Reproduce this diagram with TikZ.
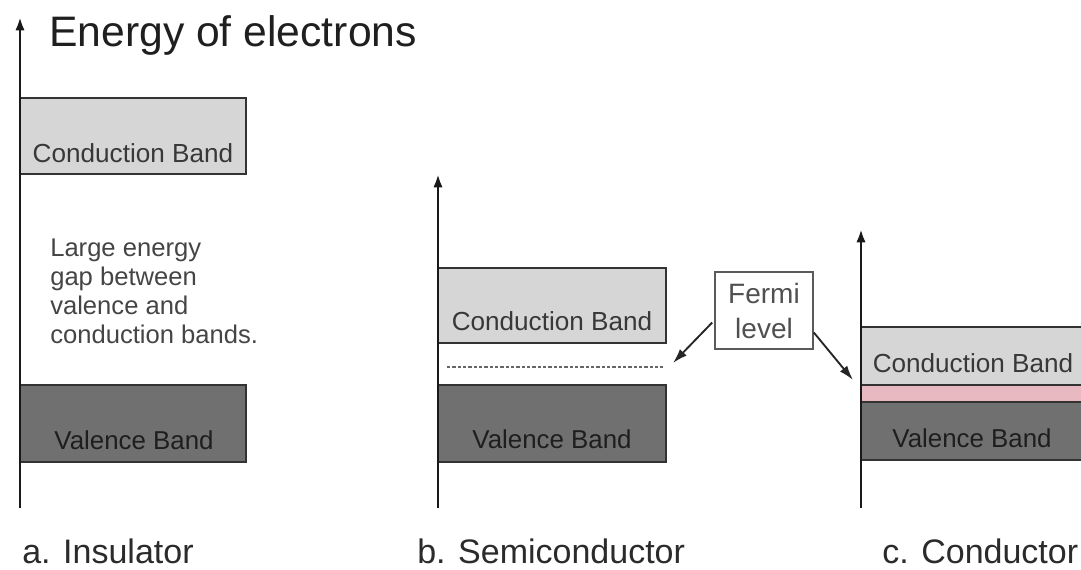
\documentclass[tikz,border=0pt]{standalone}
\usepackage{fontspec}
\setmainfont{Liberation Sans}
\usetikzlibrary{arrows.meta,fit,calc}
\definecolor{cbfill}{HTML}{D6D6D6}
\definecolor{vbfill}{HTML}{707070}
\definecolor{bandborder}{HTML}{333333}
\definecolor{pinkband}{HTML}{E8B9C1}
\definecolor{bandtxt}{HTML}{383838}
\definecolor{vtxt}{HTML}{1E1E1E}
\definecolor{captxt}{HTML}{2B2B2B}
\definecolor{gaptxt}{HTML}{454545}
\definecolor{fermitxt}{HTML}{505050}
\definecolor{fermiline}{HTML}{5A5A5A}
\begin{document}
\begin{tikzpicture}[x=0.75pt,y=-0.75pt,
  cband/.style={draw=bandborder,fill=cbfill,line width=1.5pt,inner sep=0pt,outer sep=0pt},
  vband/.style={draw=bandborder,fill=vbfill,line width=1.5pt,inner sep=0pt,outer sep=0pt},
  pband/.style={fill=pinkband,draw=none,inner sep=0pt,outer sep=0pt},
  bandtext/.style={text=bandtxt,inner sep=0pt,anchor=base,font=\fontsize{19.6}{23}\selectfont},
  vbandtext/.style={text=vtxt,inner sep=0pt,anchor=base,font=\fontsize{19.4}{23}\selectfont},
  caption/.style={text=captxt,inner sep=0pt,anchor=base west,font=\fontsize{25.5}{30}\selectfont},
  axis/.style={line width=2pt,draw=black!90,-{Latex[length=10pt,width=7pt]}},
  fermibox/.style={draw=fermiline,line width=1.2pt,fill=white,text=fermitxt,align=center,
    minimum width=73.5pt,minimum height=57.75pt,inner sep=0pt,
    font=\fontsize{21}{26.25}\selectfont},
  fermiarrow/.style={line width=1.4pt,draw=black!85,-{Latex[length=11pt,width=7pt]}},
  fermidash/.style={draw=black!60,line width=1pt,dash pattern=on 2.4pt off 1.6pt}
]
\clip (0,0) rectangle (1081,569);
\fill[white] (0,0) rectangle (1081,569);

% title
\node[inner sep=0pt,anchor=base west,text=black!88,font=\fontsize{32}{38}\selectfont] (title) at (49,46) {Energy of electrons};

% ---- a. Insulator ----
\node[cband,fit={(20,98) (246,174)}] (ica) {};
\node[bandtext] (icatext) at (133,162) {Conduction Band};
\node[vband,fit={(20,385) (246,462)}] (iva) {};
\node[vbandtext] (ivatext) at (134,449) {Valence Band};
\node[inner sep=0pt,anchor=north west,align=left,text=gaptxt,
  font=\fontsize{19.2}{21.6}\selectfont] (gap) at (50,239) {Large energy\\gap between\\valence and\\conduction bands.};
\coordinate (ia0) at (20,508);
\coordinate (ia1) at (20,17);
\draw[axis] (ia0) -- (ia1);
\node[caption] (icap) at (22,563) {a. Insulator};

% ---- b. Semiconductor ----
\node[cband,fit={(438,268) (666,343)}] (sca) {};
\node[bandtext] (scatext) at (552,330) {Conduction Band};
\node[vband,fit={(438,385) (666,462)}] (sva) {};
\node[vbandtext] (svatext) at (552,448) {Valence Band};
\coordinate (sd0) at (447,367);
\coordinate (sd1) at (663,367);
\draw[fermidash] (sd0) -- (sd1);
\coordinate (sa0) at (438,508);
\coordinate (sa1) at (438,174);
\draw[axis] (sa0) -- (sa1);
\node[caption] (scap) at (417,563) {b. Semiconductor};

% ---- c. Conductor ----
\node[pband,fit={(861,385) (1095,402)}] (cpb) {};
\node[cband,fit={(861,327) (1095,385)}] (cca) {};
\node[bandtext] (ccatext) at (973,372) {Conduction Band};
\node[vband,fit={(861,402) (1095,460)}] (cva) {};
\node[vbandtext] (cvatext) at (972,447) {Valence Band};
\coordinate (ca0) at (861,508);
\coordinate (ca1) at (861,229);
\draw[axis] (ca0) -- (ca1);
\node[caption] (ccap) at (882,563) {c. Conductor};

% ---- Fermi level ----
\node[fermibox] (fermi) at (764,310.5) {Fermi\\level};
\coordinate (fl) at (673,363);
\coordinate (fr) at (853,380);
\draw[fermiarrow] ($(fermi.west)+(-2,12)$) -- (fl);
\draw[fermiarrow] ($(fermi.east)+(0,22)$) -- (fr);
\end{tikzpicture}
\end{document}
